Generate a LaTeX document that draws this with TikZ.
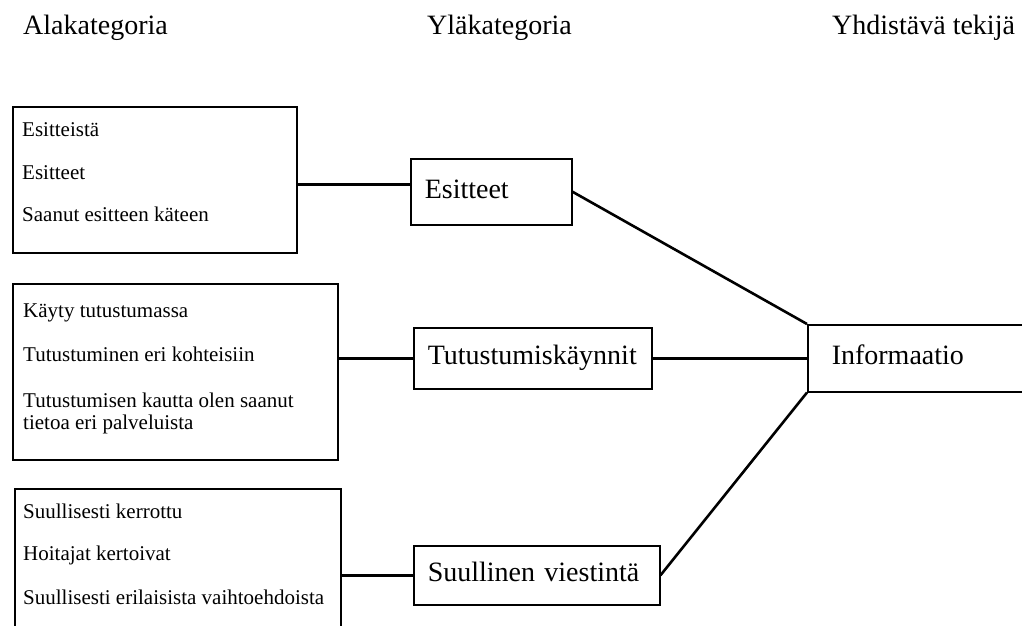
\documentclass[tikz,border=0pt]{standalone}
\usepackage{fontspec}
\setmainfont{Liberation Serif}

\tikzset{
  head/.style={anchor=base west, inner sep=0pt, font=\fontsize{28}{32}\selectfont},
  listbox/.style={draw, line width=1.5pt, inner sep=0pt, anchor=north west},
  item/.style={anchor=base west, inner sep=0pt, font=\fontsize{21}{23}\selectfont},
  catbox/.style={draw, line width=1.5pt, anchor=north west, align=left,
    inner xsep=14pt, inner ysep=0pt, text height=19pt, text depth=6pt,
    font=\fontsize{28}{32}\selectfont},
  link/.style={line width=2.6pt}
}

\begin{document}
\begin{tikzpicture}[x=1pt,y=-1pt]

\useasboundingbox (0,0) rectangle (1022,625);
\clip (0,0) rectangle (1022,625);

% =========================
% OTSIKOT
% =========================

\node[head] (hAla) at (23,34) {Alakategoria};
\node[head] (hYla) at (427,34) {Yläkategoria};
\node[head] (hYhd) at (832,34) {Yhdistävä tekijä};

% =========================
% ALAKATEGORIAT
% =========================

\node[listbox, minimum width=284pt, minimum height=146pt] (ala1) at (12,106) {};
\node[item] (ala1a) at (22,136) {Esitteistä};
\node[item] (ala1b) at (22,179) {Esitteet};
\node[item] (ala1c) at (22,221) {Saanut esitteen käteen};

\node[listbox, minimum width=325pt, minimum height=176pt] (ala2) at (12,283) {};
\node[item] (ala2a) at (23,317) {Käyty tutustumassa};
\node[item] (ala2b) at (23,361) {Tutustuminen eri kohteisiin};
\node[item] (ala2c) at (23,407) {Tutustumisen kautta olen saanut};
\node[item] (ala2d) at (23,429) {tietoa eri palveluista};

\node[listbox, minimum width=326pt, minimum height=170pt] (ala3) at (14,488) {};
\node[item] (ala3a) at (23,518) {Suullisesti kerrottu};
\node[item] (ala3b) at (23,560) {Hoitajat kertoivat};
\node[item] (ala3c) at (23,604) {Suullisesti erilaisista vaihtoehdoista};

% =========================
% YLÄKATEGORIAT
% =========================

\node[catbox, text width=133pt, minimum height=66pt] (esit) at (410,158) {Esitteet};
\node[catbox, text width=210pt, minimum height=61pt] (tutu) at (413,327) {Tutustumiskäynnit};
\node[catbox, text width=218pt, minimum height=59pt] (suul) at (413,545) {Suullinen viestintä};

% yhdistävä tekijä
\node[catbox, inner xsep=24pt, text width=212pt, minimum height=67pt] (info) at (807,324) {Informaatio};

% =========================
% YHTEYDET
% =========================

\coordinate (j1) at ([yshift=7pt]esit.west);
\draw[link] (j1 -| ala1.east) -- (j1);
\draw[link] (tutu.west -| ala2.east) -- (tutu.west);
\draw[link] (suul.west -| ala3.east) -- (suul.west);

\draw[link] (esit.east) -- (info.north west);
\draw[link] (tutu.east) -- (info.west);
\draw[link] (suul.east) -- (info.south west);

\end{tikzpicture}
\end{document}
